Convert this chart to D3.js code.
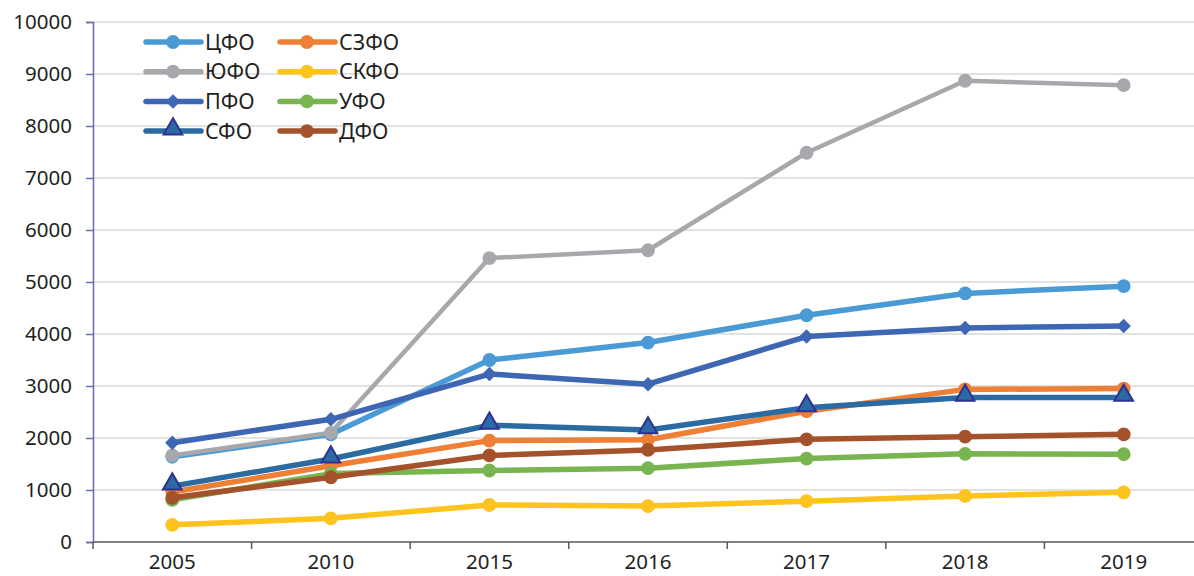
<!DOCTYPE html>
<html>
<head>
<meta charset="utf-8">
<script src="https://cdn.jsdelivr.net/npm/d3@7"></script>
<style>
  body { margin: 0; background: #fff; }
  text { font-family: "Noto Sans", "Open Sans", sans-serif; fill: #231f20; }
</style>
</head>
<body>
<svg id="chart" width="1194" height="576"></svg>
<script>
// categories and values
var years = ["2005", "2010", "2015", "2016", "2017", "2018", "2019"];
var yTicks = [0, 1000, 2000, 3000, 4000, 5000, 6000, 7000, 8000, 9000, 10000];

var cfo   = [1640, 2070, 3500, 3835, 4360, 4780, 4920];
var szfo  = [960, 1465, 1950, 1965, 2515, 2935, 2950];
var yufo  = [1665, 2100, 5460, 5610, 7485, 8870, 8785];
var skfo  = [330, 455, 712, 690, 785, 885, 955];
var pfo   = [1910, 2360, 3230, 3035, 3950, 4115, 4155];
var ufo   = [810, 1315, 1375, 1420, 1605, 1695, 1688];
var sfo   = [1075, 1595, 2245, 2155, 2580, 2780, 2780];
var dfo   = [850, 1245, 1665, 1770, 1975, 2025, 2070];

var seriesNames = ["ЦФО", "СЗФО", "ЮФО", "СКФО", "ПФО", "УФО", "СФО", "ДФО"];
var seriesValues = [cfo, szfo, yufo, skfo, pfo, ufo, sfo, dfo];
var seriesColors = ["#4a9ad6", "#ee7f35", "#a6a8ab", "#fec31e", "#3d66b3", "#78b550", "#2c6aa2", "#a3522c"];
var seriesMarkers = ["circle", "circle", "circle", "circle", "diamond", "circle", "triangle", "circle"];

var svg = d3.select("#chart"),
    margin = {top: 22, left: 93, bottom: 34},
    plotRight = 1203,
    height = 576 - margin.top - margin.bottom;

var x = d3.scaleBand()
    .domain(years)
    .range([margin.left, plotRight]);

var y = d3.scaleLinear()
    .domain([0, 10000])
    .range([margin.top + height, margin.top]);

function cx(i) { return x(years[i]) + x.bandwidth() / 2; }

// gridlines
svg.append("g")
  .selectAll("line")
  .data(yTicks.filter(function(t) { return t > 0; }))
  .join("line")
    .attr("x1", margin.left)
    .attr("x2", plotRight)
    .attr("y1", function(d) { return y(d); })
    .attr("y2", function(d) { return y(d); })
    .attr("stroke", "#d9d9d9")
    .attr("stroke-width", 1.5);

// y axis
var yAxis = svg.append("g")
    .attr("transform", "translate(" + margin.left + ",0)")
    .call(d3.axisLeft(y).tickValues(yTicks).tickSize(7).tickPadding(14).tickFormat(d3.format("d")));
yAxis.select(".domain").attr("stroke", "#6a6ab8").attr("stroke-width", 1.5);
yAxis.selectAll(".tick line").attr("stroke", "#6a6ab8").attr("stroke-width", 1.5);
yAxis.selectAll("text").attr("font-size", 20.5).style("font-family", "'Noto Sans', sans-serif").attr("fill", "#231f20");

// x axis: labels centred in each band, ticks on band edges
var base = y(0);
var xAxis = svg.append("g")
    .attr("transform", "translate(0," + base + ")")
    .call(d3.axisBottom(x).tickSize(0).tickPadding(12));
xAxis.select(".domain").remove();
xAxis.selectAll("text").attr("font-size", 20.5).style("font-family", "'Noto Sans', sans-serif").attr("fill", "#231f20");

svg.append("line")
    .attr("x1", margin.left).attr("x2", plotRight)
    .attr("y1", base).attr("y2", base)
    .attr("stroke", "#595959").attr("stroke-width", 1.5);

svg.append("g")
  .selectAll("line")
  .data(years)
  .join("line")
    .attr("x1", function(d) { return x(d); })
    .attr("x2", function(d) { return x(d); })
    .attr("y1", base)
    .attr("y2", base + 7)
    .attr("stroke", "#595959")
    .attr("stroke-width", 1.5);

var symbols = {
  circle: d3.symbol().type(d3.symbolCircle).size(150),
  diamond: d3.symbol().type(d3.symbolSquare).size(105),
  triangle: d3.symbol().type(d3.symbolTriangle).size(150)
};

function drawMarker(g, kind, color, px, py) {
  var m = g.append("path")
      .attr("d", symbols[kind]())
      .attr("transform", "translate(" + px + "," + py + ")")
      .attr("fill", color);
  if (kind == "diamond") {
    m.attr("transform", "translate(" + px + "," + py + ") rotate(45)");
  }
  if (kind == "triangle") {
    m.attr("stroke", "#2e3192").attr("stroke-width", 2)
     .attr("transform", "translate(" + px + "," + (py - 2) + ")");
  }
}

var line = d3.line()
    .x(function(d, i) { return cx(i); })
    .y(function(d) { return y(d); });

seriesValues.forEach(function(vals, s) {
  var g = svg.append("g");
  g.append("path")
      .datum(vals)
      .attr("fill", "none")
      .attr("stroke", seriesColors[s])
      .attr("stroke-width", s == 2 ? 4.5 : 5.5)
      .attr("stroke-linejoin", "round")
      .attr("d", line);
  vals.forEach(function(v, i) {
    drawMarker(g, seriesMarkers[s], seriesColors[s], cx(i), y(v));
  });
});

// legend, two columns
var legend = svg.append("g");
seriesNames.forEach(function(name, s) {
  var col = s % 2, row = Math.floor(s / 2);
  var lx = col == 0 ? 146 : 280,
      ly = 42 + row * 29.7;
  var g = legend.append("g");
  g.append("line")
      .attr("x1", lx).attr("x2", lx + 55)
      .attr("y1", ly).attr("y2", ly)
      .attr("stroke", seriesColors[s])
      .attr("stroke-width", 5.5)
      .attr("stroke-linecap", "round");
  drawMarker(g, seriesMarkers[s], seriesColors[s], lx + 27, ly);
  g.append("text")
      .attr("x", lx + 59)
      .attr("y", ly)
      .attr("dy", "0.36em")
      .attr("font-size", 21.5)
      .text(name);
});
</script>
</body>
</html>
